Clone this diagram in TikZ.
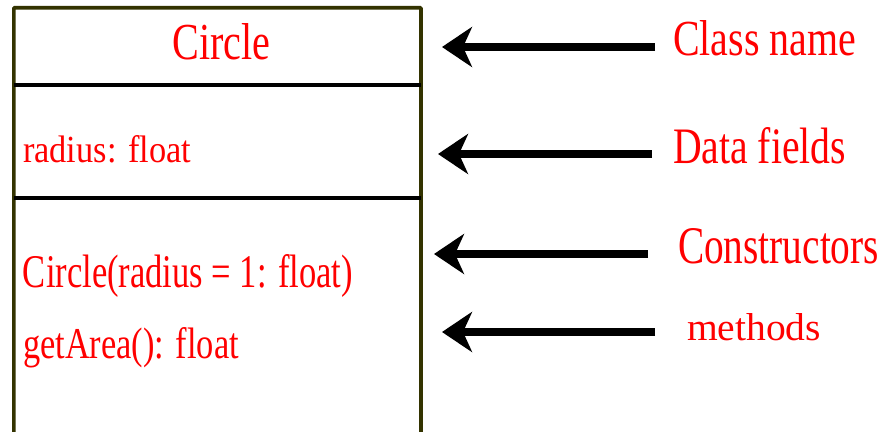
\documentclass[tikz,border=0pt]{standalone}
\usepackage{fontspec}
\setmainfont{Liberation Serif}
\usepackage{graphicx}
\usetikzlibrary{arrows.meta}
\definecolor{boxolive}{HTML}{333300}
\newcommand\fitbox[3]{\resizebox{#1pt}{#2pt}{#3}}
\begin{document}
\begin{tikzpicture}[x=1pt,y=-1pt,
  lbl/.style={inner sep=0pt, outer sep=0pt, text=red, font=\fontsize{40}{48}\selectfont},
  pointer/.style={line width=8pt, draw=black, -{Stealth[length=30pt,width=40pt,inset=9pt]}},
  divider/.style={line width=4.5pt, draw=black},
  frame/.style={line width=3.6pt, draw=boxolive}]
\useasboundingbox (0,0) rectangle (883,431);
\begin{scope}
  \clip (0,0) rectangle (883,431);
  \draw[frame, rounded corners=1pt] (13.8,7.7) rectangle (421,440);
\end{scope}
\coordinate (d1l) at (13.8,85);
\coordinate (d1r) at (421,85);
\coordinate (d2l) at (13.8,198);
\coordinate (d2r) at (421,198);
\draw[divider] (d1l) -- (d1r);
\draw[divider] (d2l) -- (d2r);
% class box texts
\node[lbl, anchor=base] (cname) at (221.5,59) {\fitbox{98}{36}{Circle}};
\node[lbl, anchor=base west] (field) at (23,162) {\fitbox{168}{27}{radius: float}};
\node[lbl, anchor=base west] (ctor) at (23,287) {\fitbox{330}{33}{Circle(radius = 1: float)}};
\node[lbl, anchor=base west] (meth) at (23,358) {\fitbox{216}{31}{getArea(): float}};
% right labels
\node[lbl, anchor=base west] (lclass) at (673,55) {\fitbox{183}{35}{Class name}};
\node[lbl, anchor=base west] (ldata) at (673,163) {\fitbox{173}{36}{Data fields}};
\node[lbl, anchor=base west] (lctor) at (678,263) {\fitbox{201}{35}{Constructors}};
\node[lbl, anchor=base west] (lmeth) at (687,340) {\fitbox{134}{27}{methods}};
% arrows
\coordinate (a1s) at (655,47);  \coordinate (a1t) at (442,47);
\coordinate (a2s) at (652,154); \coordinate (a2t) at (438,154);
\coordinate (a3s) at (648,254); \coordinate (a3t) at (434,254);
\coordinate (a4s) at (655,332); \coordinate (a4t) at (442,332);
\draw[pointer] (a1s) -- (a1t);
\draw[pointer] (a2s) -- (a2t);
\draw[pointer] (a3s) -- (a3t);
\draw[pointer] (a4s) -- (a4t);
\end{tikzpicture}
\end{document}
